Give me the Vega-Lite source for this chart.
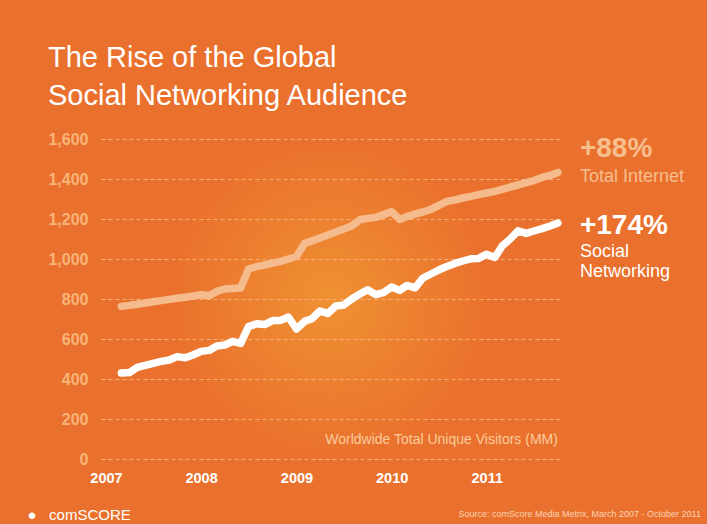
{
  "$schema": "https://vega.github.io/schema/vega-lite/v6.json",
  "width": 459,
  "height": 320,
  "autosize": {"type": "none"},
  "padding": {"left": 101, "top": 139, "right": 147, "bottom": 65},
  "background": "#EA712D",
  "title": {
    "text": ["The Rise of the Global", "Social Networking Audience"],
    "anchor": "start",
    "frame": "group",
    "dx": -53,
    "offset": -3,
    "baseline": "alphabetic",
    "fontSize": 29,
    "lineHeight": 38,
    "font": "Liberation Sans",
    "fontWeight": "normal",
    "color": "#FFFFFF"
  },
  "config": {
    "view": {
      "stroke": null,
      "fill": {
        "gradient": "radial",
        "x1": 0.5, "y1": 0.5, "r1": 0,
        "x2": 0.5, "y2": 0.5, "r2": 0.345,
        "stops": [
          {"offset": 0, "color": "#EF9132"},
          {"offset": 1, "color": "#EA712D"}
        ]
      }
    }
  },
  "datasets": {
    "visitors": [
      {"month": "2007-03-01", "internet": 763, "social": 430},
      {"month": "2007-04-01", "internet": 768, "social": 432},
      {"month": "2007-05-01", "internet": 774, "social": 458},
      {"month": "2007-06-01", "internet": 780, "social": 468},
      {"month": "2007-07-01", "internet": 786, "social": 478},
      {"month": "2007-08-01", "internet": 792, "social": 488},
      {"month": "2007-09-01", "internet": 798, "social": 495},
      {"month": "2007-10-01", "internet": 804, "social": 512},
      {"month": "2007-11-01", "internet": 809, "social": 506},
      {"month": "2007-12-01", "internet": 815, "social": 520},
      {"month": "2008-01-01", "internet": 821, "social": 538},
      {"month": "2008-02-01", "internet": 816, "social": 543},
      {"month": "2008-03-01", "internet": 838, "social": 565},
      {"month": "2008-04-01", "internet": 850, "social": 570},
      {"month": "2008-05-01", "internet": 853, "social": 588},
      {"month": "2008-06-01", "internet": 855, "social": 578},
      {"month": "2008-07-01", "internet": 950, "social": 662},
      {"month": "2008-08-01", "internet": 962, "social": 676},
      {"month": "2008-09-01", "internet": 970, "social": 672},
      {"month": "2008-10-01", "internet": 979, "social": 692},
      {"month": "2008-11-01", "internet": 988, "social": 693},
      {"month": "2008-12-01", "internet": 1000, "social": 710},
      {"month": "2009-01-01", "internet": 1013, "social": 650},
      {"month": "2009-02-01", "internet": 1078, "social": 688},
      {"month": "2009-03-01", "internet": 1090, "social": 701},
      {"month": "2009-04-01", "internet": 1105, "social": 740},
      {"month": "2009-05-01", "internet": 1120, "social": 728},
      {"month": "2009-06-01", "internet": 1135, "social": 765},
      {"month": "2009-07-01", "internet": 1150, "social": 770},
      {"month": "2009-08-01", "internet": 1165, "social": 800},
      {"month": "2009-09-01", "internet": 1196, "social": 825},
      {"month": "2009-10-01", "internet": 1203, "social": 846},
      {"month": "2009-11-01", "internet": 1208, "social": 822},
      {"month": "2009-12-01", "internet": 1222, "social": 832},
      {"month": "2010-01-01", "internet": 1236, "social": 860},
      {"month": "2010-02-01", "internet": 1198, "social": 843},
      {"month": "2010-03-01", "internet": 1212, "social": 868},
      {"month": "2010-04-01", "internet": 1225, "social": 856},
      {"month": "2010-05-01", "internet": 1235, "social": 905},
      {"month": "2010-06-01", "internet": 1248, "social": 925},
      {"month": "2010-07-01", "internet": 1268, "social": 945},
      {"month": "2010-08-01", "internet": 1288, "social": 963},
      {"month": "2010-09-01", "internet": 1295, "social": 978},
      {"month": "2010-10-01", "internet": 1305, "social": 990},
      {"month": "2010-11-01", "internet": 1313, "social": 1001},
      {"month": "2010-12-01", "internet": 1322, "social": 1003},
      {"month": "2011-01-01", "internet": 1330, "social": 1024},
      {"month": "2011-02-01", "internet": 1338, "social": 1008},
      {"month": "2011-03-01", "internet": 1348, "social": 1065},
      {"month": "2011-04-01", "internet": 1360, "social": 1100},
      {"month": "2011-05-01", "internet": 1370, "social": 1141},
      {"month": "2011-06-01", "internet": 1382, "social": 1128},
      {"month": "2011-07-01", "internet": 1392, "social": 1140},
      {"month": "2011-08-01", "internet": 1408, "social": 1152},
      {"month": "2011-09-01", "internet": 1418, "social": 1165},
      {"month": "2011-10-01", "internet": 1433, "social": 1180}
    ],
    "labels": [
      {"month": "2011-10-01", "visitors": 1433, "series": "internet", "change": "+88%", "name": "Total Internet"},
      {"month": "2011-10-01", "visitors": 1180, "series": "social", "change": "+174%", "name": "Social\nNetworking"}
    ],
    "notes": [
      {"month": "2011-10-01", "visitors": 77, "note": "Worldwide Total Unique Visitors (MM)"}
    ]
  },
  "layer": [
    {
      "data": {"name": "visitors"},
      "transform": [{"fold": ["internet", "social"], "as": ["series", "visitors"]}],
      "mark": {"type": "line", "strokeCap": "round", "strokeJoin": "round", "strokeWidth": 7.5},
      "encoding": {
        "x": {
          "field": "month",
          "type": "temporal",
          "scale": {
            "type": "utc",
            "domain": [
              {"year": 2006, "month": 12, "date": 13, "utc": true},
              {"year": 2011, "month": 10, "date": 9, "utc": true}
            ]
          },
          "axis": {
            "format": "%Y",
            "tickCount": "year",
            "labelFlush": false,
            "labelFont": "Liberation Sans",
            "labelFontWeight": "bold",
            "labelFontSize": 14.5,
            "labelColor": "#FFFFFF",
            "labelPadding": 12,
            "ticks": false,
            "domain": false,
            "grid": false,
            "title": "Source: comScore Media Metrix, March 2007 - October 2011",
            "titleFont": "Liberation Sans",
            "titleFontSize": 9,
            "titleFontWeight": "normal",
            "titleColor": "#FBD3B4",
            "titleAnchor": "start",
            "titleAlign": "left",
            "titleBaseline": "alphabetic",
            "titleX": 357,
            "titleY": 57
          }
        },
        "y": {
          "field": "visitors",
          "type": "quantitative",
          "scale": {"domain": [0, 1600]},
          "axis": {
            "values": [0, 200, 400, 600, 800, 1000, 1200, 1400, 1600],
            "tickCount": 10,
            "labelOverlap": false,
            "format": ",.0f",
            "labelFont": "Liberation Sans",
            "labelFontWeight": "bold",
            "labelFontSize": 16,
            "labelColor": "#F8B47A",
            "labelPadding": 13,
            "ticks": false,
            "domain": false,
            "grid": true,
            "gridColor": "#F7B07A",
            "gridDash": [4, 3],
            "gridWidth": 1,
            "title": "●\u00a0\u00a0\u00a0comSCORE",
            "titleAngle": 0,
            "titleAlign": "left",
            "titleBaseline": "alphabetic",
            "titleX": -74,
            "titleY": 380,
            "titleFont": "Liberation Sans",
            "titleFontSize": 15,
            "titleFontWeight": "normal",
            "titleColor": "#FFFFFF"
          }
        },
        "color": {
          "field": "series",
          "type": "nominal",
          "scale": {"domain": ["internet", "social"], "range": ["#F5BB8C", "#FFFFFF"]},
          "legend": null
        }
      }
    },
    {
      "data": {"name": "labels"},
      "transform": [{"filter": "datum.series === 'internet'"}],
      "mark": {"type": "text", "align": "left", "baseline": "alphabetic", "dx": 22, "dy": -15, "font": "Liberation Sans", "fontSize": 28, "fontWeight": "bold", "color": "#F7BE8E"},
      "encoding": {
        "x": {"field": "month", "type": "temporal"},
        "y": {"field": "visitors", "type": "quantitative"},
        "text": {"field": "change"}
      }
    },
    {
      "data": {"name": "labels"},
      "transform": [{"filter": "datum.series === 'internet'"}],
      "mark": {"type": "text", "align": "left", "baseline": "alphabetic", "dx": 22, "dy": 10, "font": "Liberation Sans", "fontSize": 18, "color": "#F7BE8E"},
      "encoding": {
        "x": {"field": "month", "type": "temporal"},
        "y": {"field": "visitors", "type": "quantitative"},
        "text": {"field": "name"}
      }
    },
    {
      "data": {"name": "labels"},
      "transform": [{"filter": "datum.series === 'social'"}],
      "mark": {"type": "text", "align": "left", "baseline": "alphabetic", "dx": 22, "dy": 11, "font": "Liberation Sans", "fontSize": 28, "fontWeight": "bold", "color": "#FFFFFF"},
      "encoding": {
        "x": {"field": "month", "type": "temporal"},
        "y": {"field": "visitors", "type": "quantitative"},
        "text": {"field": "change"}
      }
    },
    {
      "data": {"name": "labels"},
      "transform": [{"filter": "datum.series === 'social'"}],
      "mark": {"type": "text", "align": "left", "baseline": "alphabetic", "dx": 22, "dy": 34, "lineBreak": "\n", "lineHeight": 20, "font": "Liberation Sans", "fontSize": 18, "color": "#FFFFFF"},
      "encoding": {
        "x": {"field": "month", "type": "temporal"},
        "y": {"field": "visitors", "type": "quantitative"},
        "text": {"field": "name"}
      }
    },
    {
      "data": {"name": "notes"},
      "mark": {"type": "text", "align": "right", "baseline": "alphabetic", "font": "Liberation Sans", "fontSize": 14, "color": "#FBCB9C"},
      "encoding": {
        "x": {"field": "month", "type": "temporal"},
        "y": {"field": "visitors", "type": "quantitative"},
        "text": {"field": "note"}
      }
    }
  ]
}
